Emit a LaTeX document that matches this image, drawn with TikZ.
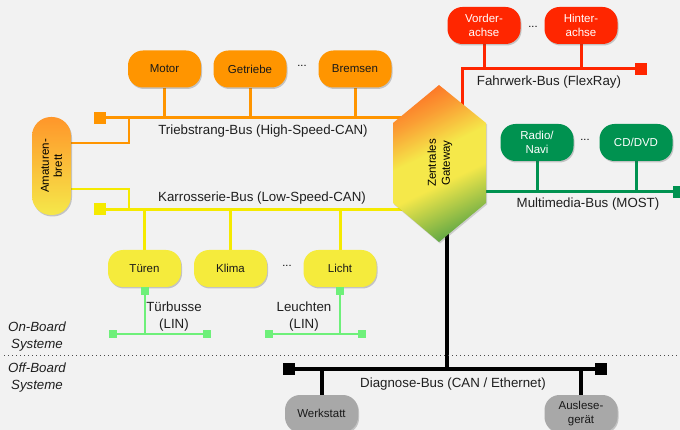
\documentclass[tikz,border=0pt]{standalone}
\usepackage{fontspec}
\setmainfont{Liberation Sans}
\usetikzlibrary{shadows}
\pgfdeclarelayer{back}
\pgfdeclarelayer{wires}
\pgfsetlayers{back,wires,main}

\definecolor{paper}{HTML}{F2F2F2}
\definecolor{orng}{HTML}{FF9500}
\definecolor{redc}{HTML}{FF2600}
\definecolor{grn}{HTML}{009250}
\definecolor{yel}{HTML}{F5EB3C}
\definecolor{yelbus}{HTML}{F5EA00}
\definecolor{linc}{HTML}{6EF07A}
\definecolor{grayn}{HTML}{A8A8A8}
\definecolor{gwtop}{HTML}{FF5E1E}
\definecolor{gwora}{HTML}{FA9E34}
\definecolor{gwmid}{HTML}{F5E84A}
\definecolor{gwbot}{HTML}{62A845}
\definecolor{dashtop}{HTML}{FF962A}
\definecolor{dashbot}{HTML}{F5E84A}

% gateway colour ramp: green (low) -> yellow -> orange -> orange-red (high)
\pgfdeclareverticalshading{gwramp}{100bp}{%
  color(0bp)=(gwbot); color(24bp)=(gwbot); color(43bp)=(gwmid);
  color(55bp)=(gwmid); color(68bp)=(gwora); color(82bp)=(gwtop);
  color(100bp)=(gwtop)}

\begin{document}
\begin{tikzpicture}[x=1pt,y=-1pt,
  softshadow/.style={drop shadow={shadow xshift=1pt, shadow yshift=-1.5pt,
      opacity=0.28, fill=black!70}},
  ecu/.style={rounded corners=15pt, minimum width=73pt, minimum height=37pt,
    inner sep=0pt, align=center, font=\fontsize{11.5}{14.5}\selectfont,
    softshadow},
  ecuO/.style={ecu, fill=orng, text=black!90},
  ecuR/.style={ecu, fill=redc, text=white},
  ecuG/.style={ecu, fill=grn, text=white},
  ecuY/.style={ecu, fill=yel, text=black!90},
  ecuK/.style={ecu, fill=grayn, text=black!90},
  wire/.style={line width=3pt},
  linwire/.style={line width=2pt, draw=linc},
  diagwire/.style={line width=4pt, draw=black},
  busend/.style={minimum size=12pt, inner sep=0pt, fill=#1},
  linend/.style={minimum size=8pt, inner sep=0pt, fill=linc},
  buslabel/.style={font=\fontsize{13.3}{16.5}\selectfont, align=center,
    text=black!88, inner sep=0pt},
  sidelabel/.style={buslabel, font=\fontsize{13.3}{16.5}\selectfont\itshape},
  more/.style={font=\fontsize{11}{12}\selectfont, inner sep=0pt}
]
\useasboundingbox (0,0) rectangle (680,430);
\clip (0,0) rectangle (680,430);
\begin{pgfonlayer}{back}
  \fill[paper] (0,0) rectangle (680,430);
\end{pgfonlayer}

% ---------- control units ----------
\node[ecuO] (motor)    at (164.5,69) {Motor};
\node[ecuO] (getriebe) at (250,69)   {Getriebe};
\node[more] (dotsO)    at (302,66)   {...};
\node[ecuO] (bremsen)  at (355,69)   {Bremsen};

\node[ecuR] (vorder) at (484,25.5) {Vorder-\\achse};
\node[more] (dotsR)  at (533,27)   {...};
\node[ecuR] (hinter) at (581,25.5) {Hinter-\\achse};

\node[ecuG] (radio) at (537,142.5) {Radio/\\Navi};
\node[more] (dotsG) at (585,140)   {...};
\node[ecuG] (cddvd) at (636,142.5) {CD/DVD};

\node[ecuY] (tueren) at (144.5,268.5) {Türen};
\node[ecuY] (klima)  at (230.5,268.5) {Klima};
\node[more] (dotsY)  at (287,266)     {...};
\node[ecuY] (licht)  at (340,268.5)   {Licht};

\node[ecuK] (werkstatt) at (321.5,413.5) {Werkstatt};
\node[ecuK] (auslese)   at (581,413.5)   {Auslese-\\gerät};

% dashboard, standing upright with its text turned
\node[rounded corners=19pt, minimum width=39pt, minimum height=98pt,
  inner sep=0pt, top color=dashtop, bottom color=dashbot, softshadow]
  (dash) at (51.5,166) {};
\node[rotate=90, align=center, font=\fontsize{11.5}{13}\selectfont, inner sep=0pt]
  (dashtext) at (dash.center) {Amaturen-\\brett};

% ---------- central gateway ----------
\path[shading=gwramp, shading angle=26,
  drop shadow={shadow xshift=1pt, shadow yshift=-1.5pt, opacity=0.22, fill=black!70}]
  (439,85) -- (486,123) -- (486,203) -- (439,242) -- (393,203) -- (393,123) -- cycle;
\node[rotate=90, align=center, font=\fontsize{11.5}{14}\selectfont, inner sep=0pt]
  (gw) at (440,163) {Zentrales\\Gateway};
\coordinate (gwb) at (447,225);
\coordinate (gwr) at (462,130);

% ---------- bus terminators ----------
\node[busend=orng]   (tbL) at (100,118)   {};
\node[busend=yelbus] (kbL) at (100,209.5) {};
\node[busend=redc]   (frR) at (641,69)    {};
\node[busend=grn]    (mmR) at (679,192)   {};
\node[busend=black]  (dgL) at (289,369)   {};
\node[busend=black]  (dgR) at (601,369)   {};

\node[linend] (ltT) at (144.5,291) {};
\node[linend] (ltL) at (113,334)   {};
\node[linend] (ltR) at (207,334)   {};
\node[linend] (llT) at (340,291)   {};
\node[linend] (llL) at (269,334)   {};
\node[linend] (llR) at (362,334)   {};

\coordinate (jT) at (129,118);
\coordinate (jK) at (129,209.5);

% ---------- bus lines ----------
\begin{pgfonlayer}{wires}
  % drivetrain
  \draw[wire, orng] (tbL.center) -- (tbL -| gw);
  \foreach \n in {motor,getriebe,bremsen}
    \draw[wire, orng] (\n.south) -- (\n.south |- tbL);
  \draw[line width=2.5pt, orng] ([yshift=23pt]dash.east) -| (jT);
  % body
  \draw[wire, yelbus] (kbL.center) -- (kbL -| gw);
  \foreach \n in {tueren,klima,licht}
    \draw[wire, yelbus] (\n.north) -- (\n.north |- kbL);
  \draw[line width=2.5pt, yelbus] ([yshift=-23pt]dash.east) -| (jK);
  % chassis
  \draw[wire, redc] (gwr) |- (frR.center);
  \foreach \n in {vorder,hinter}
    \draw[wire, redc] (\n.south) -- (\n.south |- frR);
  % multimedia
  \draw[wire, grn] (gw |- mmR) -- (mmR.center);
  \foreach \n in {radio,cddvd}
    \draw[wire, grn] (\n.south) -- (\n.south |- mmR);
  % LIN sub-buses
  \draw[linwire] (ltL.center) -- (ltR.center);
  \draw[linwire] (ltT.center) -- (ltT |- ltL);
  \draw[linwire] (llL.center) -- (llR.center);
  \draw[linwire] (llT.center) -- (llT |- llL);
  % diagnosis
  \draw[diagwire] (dgL.center) -- (dgR.center);
  \draw[diagwire] (gwb) -- (gwb |- dgL);
  \foreach \n in {werkstatt,auslese}
    \draw[diagwire] (\n.north) -- (\n.north |- dgL);
  % on-board / off-board separator
  \coordinate (sepL) at (4,355);
  \coordinate (sepR) at (680,355);
  \draw[black!70, line width=1pt, dash pattern=on 1.2pt off 2.8pt] (sepL) -- (sepR);
\end{pgfonlayer}

% ---------- bus labels ----------
\node[buslabel] (lbT) at (263,131)   {Triebstrang-Bus (High-Speed-CAN)};
\node[buslabel] (lbK) at (262,198.5) {Karrosserie-Bus (Low-Speed-CAN)};
\node[buslabel] (lbF) at (549,82)    {Fahrwerk-Bus (FlexRay)};
\node[buslabel] (lbM) at (588,204)   {Multimedia-Bus (MOST)};
\node[buslabel] (lbD) at (453,384)   {Diagnose-Bus (CAN / Ethernet)};
\node[buslabel] (lbLT) at (174,316.5) {Türbusse\\(LIN)};
\node[buslabel] (lbLL) at (304,316.5) {Leuchten\\(LIN)};

\node[sidelabel] (onb)  at (37,336.5) {On-Board\\Systeme};
\node[sidelabel] (offb) at (37,377.5) {Off-Board\\Systeme};
\end{tikzpicture}
\end{document}
